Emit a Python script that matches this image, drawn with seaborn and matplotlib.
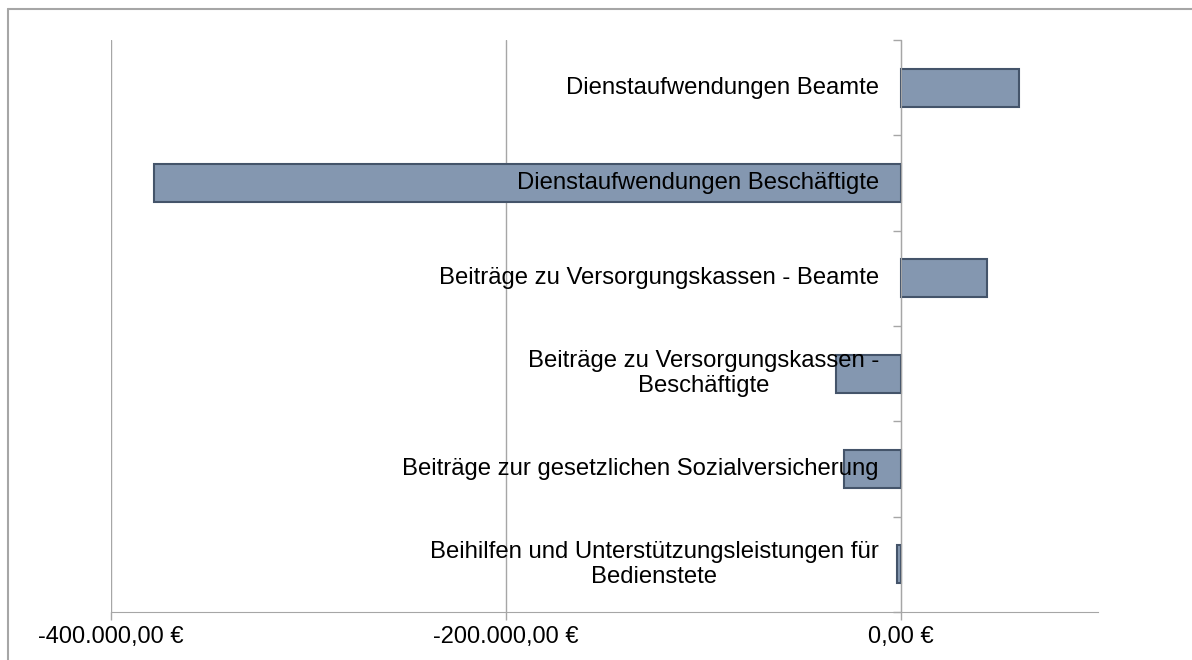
import numpy as np
import pandas as pd
import seaborn as sns
from matplotlib import pyplot as plt
from matplotlib.lines import Line2D
from matplotlib.ticker import FuncFormatter

# ==== data ====
categories = ['Dienstaufwendungen Beamte',
              'Dienstaufwendungen Beschäftigte',
              'Beiträge zu Versorgungskassen - Beamte',
              'Beiträge zu Versorgungskassen -\nBeschäftigte',
              'Beiträge zur gesetzlichen Sozialversicherung',
              'Beihilfen und Unterstützungsleistungen für\nBedienstete']
values = [59850, -378100, 43660, -32580, -28700, -2020]
xticks = [-400000, -200000, 0]

df = pd.DataFrame({'cat': categories, 'val': values})

sns.set_style('white')
plt.rcParams['font.family'] = ['Liberation Sans', 'DejaVu Sans']

fig = plt.figure(figsize=(11.92, 6.60), dpi=100)
ax = fig.add_axes([111 / 1192, 48 / 660, 987 / 1192, 572 / 660])

sns.barplot(data=df, x='val', y='cat', orient='h', color='#8497B0',
            edgecolor='#44546A', linewidth=1.5, width=0.40, saturation=1, ax=ax)

grey = '#A6A6A6'
ax.set_xlim(-400000, 100000)
ax.set_ylim(len(categories) - 0.5, -0.5)

# x axis, german currency format
def euro(v, pos):
    s = f'{v:,.2f}'.replace(',', 'X').replace('.', ',').replace('X', '.')
    return s + ' €'

ax.set_xticks(xticks)
ax.xaxis.set_major_formatter(FuncFormatter(euro))
ax.tick_params(axis='x', labelsize=17, colors=grey, labelcolor='black',
               length=6, width=1, direction='out', bottom=True, pad=4)
ax.grid(axis='x', color=grey, linewidth=1)
ax.grid(axis='y', visible=False)
ax.set_axisbelow(True)

# category axis sits on the zero line, ticks between categories
ax.spines['left'].set_position(('data', 0))
ax.spines['left'].set_color(grey)
ax.spines['bottom'].set_color(grey)
ax.spines['top'].set_visible(False)
ax.spines['right'].set_visible(False)
ax.set_yticks(np.arange(len(categories) + 1) - 0.5)
ax.set_yticklabels([])
ax.tick_params(axis='y', colors=grey, length=6, width=1, direction='out', left=True)
ax.set_xlabel('')
ax.set_ylabel('')

for i, c in enumerate(categories):
    ax.text(-11000, i, c, ha='right', va='center', multialignment='center',
            fontsize=17.2, color='black', linespacing=1.15)

# thin frame of the chart area
fig.add_artist(Line2D([8 / 1192, 8 / 1192], [0, 1 - 9 / 660], color=grey, lw=1.5))
fig.add_artist(Line2D([8 / 1192, 1], [1 - 9 / 660, 1 - 9 / 660], color=grey, lw=1.5))

plt.savefig('out.png', dpi=100)
plt.close()
